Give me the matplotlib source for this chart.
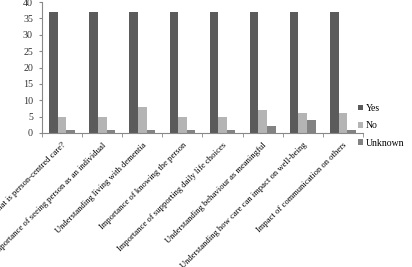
import matplotlib

matplotlib.use("Agg")
import matplotlib.pyplot as plt
import numpy as np

topics = [
    "What is person-centred care?",
    "Importance of seeing person as an individual",
    "Understanding living with dementia",
    "Importance of knowing the person",
    "Importance of supporting daily life choices",
    "Understanding behaviour as meaningful",
    "Understanding how care can impact on well-being",
    "Impact of communication on others",
]
yes = [37, 37, 37, 37, 37, 37, 37, 37]
no = [5, 5, 8, 5, 5, 7, 6, 6]
unknown = [1, 1, 1, 1, 1, 2, 4, 1]

plt.rcParams["font.family"] = ["Liberation Serif", "DejaVu Serif"]

fig = plt.figure(figsize=(4.12, 2.67), dpi=100)
ax = fig.add_axes([0.102, 0.502, 0.779, 0.49])

x = np.arange(len(topics))
w = 0.215
ax.bar(x - w, yes, w, color="#5b5b5b", label="Yes")
ax.bar(x, no, w, color="#b4b4b4", label="No")
ax.bar(x + w, unknown, w, color="#828282", label="Unknown")

ax.set_xlim(-0.5, len(topics) - 0.5)
ax.set_ylim(0, 40)
ax.set_yticks(range(0, 41, 5))
ax.tick_params(axis="y", labelsize=7.2, length=2.5, color="#888888", pad=4, labelcolor="#333333")

ax.set_xticks(x)
ax.set_xticklabels(topics, rotation=45, ha="right", rotation_mode="anchor", fontsize=6.2)
ax.tick_params(axis="x", length=0, pad=6)
ax.set_xticks(np.arange(-0.5, len(topics)), minor=True)
ax.tick_params(axis="x", which="minor", length=3, color="#888888")

for side in ["top", "right"]:
    ax.spines[side].set_visible(False)
for side in ["left", "bottom"]:
    ax.spines[side].set_color("#888888")
    ax.spines[side].set_linewidth(0.8)

ax.legend(loc="center left", bbox_to_anchor=(0.985, 0.055), frameon=False, fontsize=7,
          handlelength=0.5, handleheight=0.5, handletextpad=0.3, labelspacing=0.85,
          borderaxespad=0, borderpad=0)

fig.savefig("out.png", dpi=100)
